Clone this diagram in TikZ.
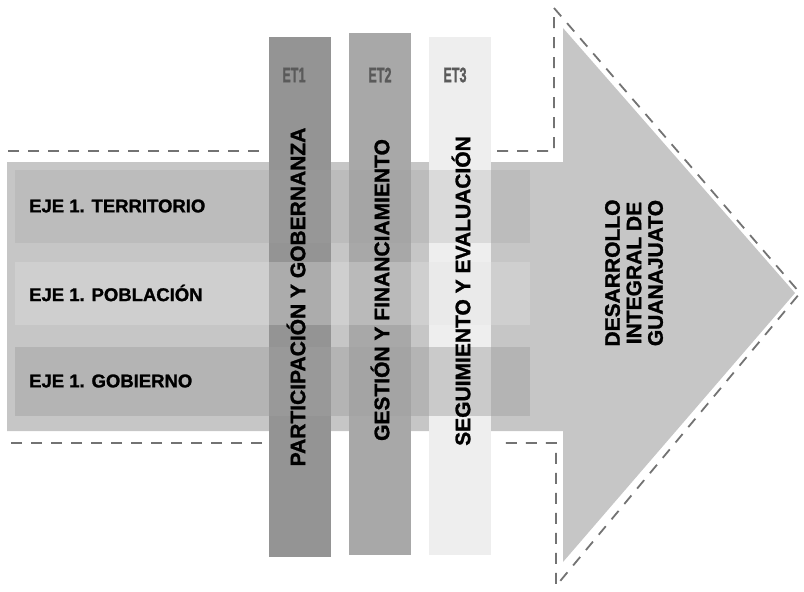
\documentclass[tikz,border=0pt]{standalone}
\usepackage{fontspec}
\setmainfont{Liberation Sans}[BoldFeatures={FakeBold=1.3}]
\definecolor{bodyc}{RGB}{198,198,198}
\definecolor{banddark}{RGB}{160,160,160}
\definecolor{bandlight}{RGB}{228,228,228}
\definecolor{etone}{RGB}{148,148,148}
\definecolor{ettwo}{RGB}{168,168,168}
\definecolor{etthree}{RGB}{238,238,238}
\definecolor{dashc}{RGB}{115,115,115}
\definecolor{etlab}{RGB}{90,90,90}
\begin{document}
\begin{tikzpicture}[x=1pt,y=-1pt,
  dashline/.style={draw=dashc, line width=1.8pt, dash pattern=on 11pt off 9pt},
  barbox/.style={draw=none, inner sep=0pt, minimum width=62pt},
  bandbox/.style={draw=none, inner sep=0pt, minimum width=515pt, fill opacity=0.45},
  ejelab/.style={anchor=west, inner sep=0pt, font=\bfseries\fontsize{18.5}{19}\selectfont},
  etlabel/.style={inner sep=0pt, text=etlab, xscale=0.6, font=\bfseries\fontsize{21}{21}\selectfont},
  vlab/.style={rotate=90, inner sep=0pt, font=\bfseries\fontsize{21}{21}\selectfont}
]
\useasboundingbox (0,0) rectangle (804,592);
% arrow body
\fill[bodyc] (7,162) -- (563,162) -- (563,28) -- (795,293) -- (563,562) -- (563,431) -- (7,431) -- cycle;
% dashed outline
\draw[dashline] (8,151) -- (262,151);
\draw[dashline] (497,151) -- (554,151) -- (554,8) -- (800,293) -- (556,586) -- (556,443) -- (497,443);
\draw[dashline] (262,443) -- (8,443);
% vertical bars
\node[barbox, fill=etone, minimum height=520pt] (bar1) at (300,297) {};
\node[barbox, fill=ettwo, minimum height=522pt] (bar2) at (380,294) {};
\node[barbox, fill=etthree, minimum height=518pt] (bar3) at (459.5,296) {};
% horizontal bands
\node[bandbox, fill=banddark, minimum height=73pt, fill opacity=0.25] (band1) at (272.5,206.5) {};
\node[bandbox, fill=bandlight, minimum height=63pt, fill opacity=0.3] (band2) at (272.5,293.5) {};
\node[bandbox, fill=banddark, minimum height=69pt] (band3) at (272.5,381.5) {};
% labels
\node[ejelab] (t1) at (29,206) {EJE 1. TERRITORIO};
\node[ejelab] (t2) at (29,293) {EJE 1. POBLACIÓN};
\node[ejelab] (t3) at (29,381) {EJE 1. GOBIERNO};
\node[etlabel] (e1) at (294,75) {ET1};
\node[etlabel] (e2) at (380,75) {ET2};
\node[etlabel] (e3) at (455,75) {ET3};
\node[vlab] (v1) at (296,297) {PARTICIPACIÓN Y GOBERNANZA};
\node[vlab] (v2) at (380,290) {GESTIÓN Y FINANCIAMIENTO};
\node[vlab] (v3) at (461,291) {SEGUIMIENTO Y EVALUACIÓN};
\node[vlab, align=center, font=\bfseries\fontsize{21}{21.5}\selectfont] (goal) at (634,273) {DESARROLLO\\INTEGRAL DE\\GUANAJUATO};
\end{tikzpicture}
\end{document}
